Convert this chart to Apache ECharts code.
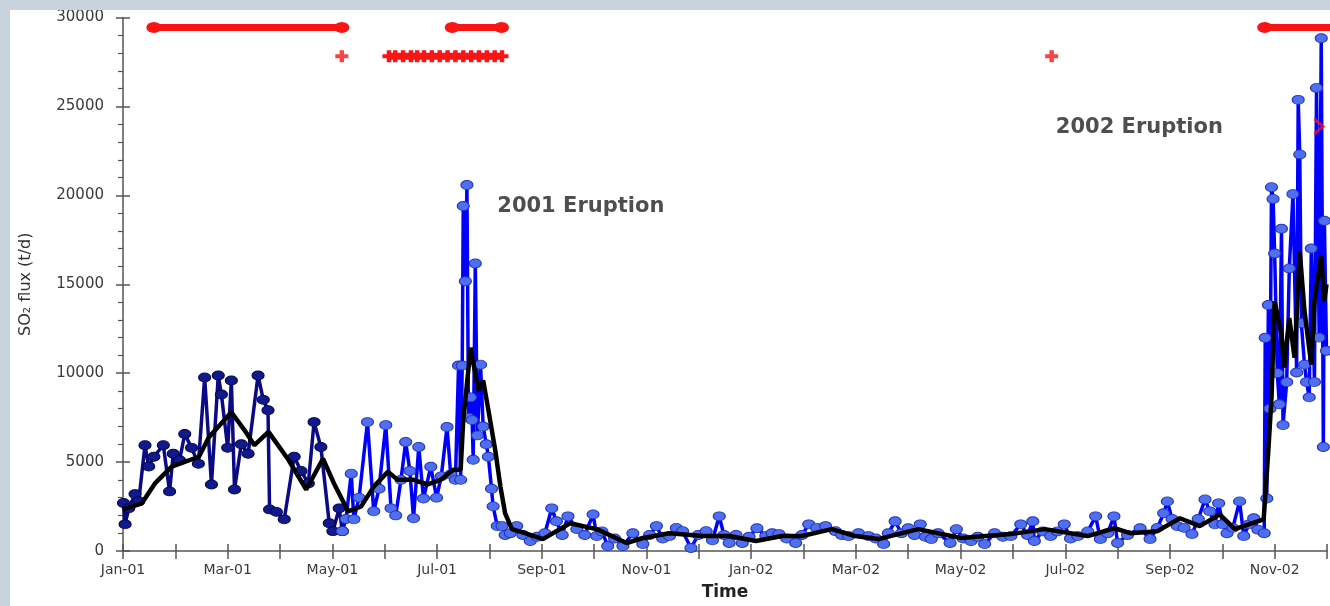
<!DOCTYPE html>
<html>
<head>
<meta charset="utf-8">
<script src="https://cdn.jsdelivr.net/npm/echarts@6/dist/echarts.min.js"></script>
<style>
html,body{margin:0;padding:0;width:1330px;height:606px;overflow:hidden;background:#c9d3dd;}
#chart{position:absolute;left:10px;top:10px;width:1320px;height:596px;background:#ffffff;}
</style>
</head>
<body>
<div id="chart"></div>
<script>
// time values are in months since 1 Jan 2001 (0 = Jan-01, 22 = Nov-02)
const monthNames = ['Jan','Feb','Mar','Apr','May','Jun','Jul','Aug','Sep','Oct','Nov','Dec'];
const yTicks = [0, 5000, 10000, 15000, 20000, 25000, 30000];

// pre-May 2001 measurements (dark blue)
const earlyT = [0.01,0.04,0.11,0.23,0.30,0.42,0.49,0.59,0.77,0.89,0.96,1.08,1.18,1.31,1.44,1.56,1.69,1.82,1.88,2.00,2.07,2.13,2.26,2.39,2.58,2.68,2.77,2.80,2.93,3.08,3.27,3.40,3.54,3.65,3.78,3.94,4.01,4.13,4.19];
const earlyV = [2700,1500,2400,3200,2800,5950,4750,5300,5950,3350,5470,5100,6580,5800,4900,9760,3740,9870,8800,5800,9590,3460,6000,5470,9870,8500,7920,2340,2200,1780,5300,4500,3800,7250,5850,1560,1115,2400,1115];

// later measurements (blue)
const lateT = [4.19,4.26,4.36,4.41,4.51,4.67,4.79,4.89,5.02,5.12,5.21,5.31,5.40,5.48,5.55,5.65,5.74,5.88,5.99,6.08,6.19,6.26,6.35,6.41,6.45,6.48,6.50,6.54,6.57,6.60,6.64,6.67,6.69,6.73,6.77,6.83,6.88,6.94,6.98,7.04,7.07,7.15,7.24,7.30,7.40,7.52,7.64,7.78,7.91,8.06,8.19,8.28,8.39,8.50,8.67,8.82,8.98,9.05,9.15,9.26,9.39,9.55,9.74,9.93,10.06,10.19,10.31,10.44,10.57,10.69,10.85,10.99,11.14,11.26,11.39,11.48,11.58,11.71,11.83,11.96,12.11,12.28,12.40,12.53,12.68,12.85,12.97,13.10,13.25,13.42,13.61,13.73,13.86,14.05,14.24,14.38,14.53,14.62,14.75,14.87,15.00,15.12,15.23,15.33,15.44,15.57,15.80,15.92,16.05,16.20,16.33,16.46,16.65,16.81,16.96,17.15,17.28,17.38,17.41,17.57,17.72,17.85,17.98,18.10,18.24,18.43,18.58,18.67,18.81,18.93,19.00,19.19,19.43,19.62,19.76,19.88,19.95,20.04,20.14,20.27,20.42,20.54,20.67,20.76,20.86,20.93,21.01,21.09,21.20,21.33,21.41,21.51,21.60,21.68,21.80,21.82,21.85,21.88,21.91,21.94,21.97,22.00,22.05,22.09,22.13,22.16,22.23,22.28,22.35,22.42,22.45,22.48,22.51,22.57,22.61,22.66,22.70,22.76,22.80,22.85,22.89,22.93,22.95,22.99];
const lateV = [1115,1800,4350,1780,3000,7250,2230,3500,7080,2400,2000,4000,6130,4500,1840,5850,2950,4740,3000,4200,6970,4300,4000,10430,4000,10430,19400,15170,20580,7500,8640,7360,5130,16170,6500,10480,7000,6000,5300,3500,2510,1400,1400,900,1000,1400,900,560,800,1000,2400,1670,900,1950,1230,900,2060,840,1100,280,700,280,1000,390,900,1400,700,840,1300,1115,170,900,1115,600,1950,900,450,900,450,800,1280,840,1000,950,700,450,900,1500,1300,1400,1115,900,840,1000,840,700,390,1000,1670,1000,1280,900,1500,800,670,1000,450,1230,700,560,800,390,1000,800,840,1500,900,1670,560,1100,840,1100,1500,700,840,1100,1950,670,1000,1950,450,900,1280,670,1300,2120,2790,1800,1400,1300,950,1800,2900,2230,1500,2680,1500,1000,1300,2790,840,1500,1840,1200,1000,11990,2950,13830,8000,20460,19800,16730,10000,8250,18120,7080,9500,15890,20070,10040,25370,22300,12820,10480,9500,8640,17010,9500,26040,12000,28830,5850,18570,11260];

// running mean (black)
const meanT = [0.00,0.36,0.61,0.93,1.45,1.64,2.07,2.32,2.51,2.78,3.16,3.50,3.82,4.03,4.30,4.55,4.79,5.06,5.25,5.55,5.82,6.07,6.31,6.45,6.50,6.64,6.79,6.88,6.98,7.11,7.21,7.30,7.43,7.68,8.02,8.54,9.05,9.62,9.93,10.44,11.07,11.58,12.09,12.59,12.97,13.54,13.99,14.43,15.19,16.01,16.96,17.61,18.43,18.94,19.24,19.76,20.19,20.57,20.95,21.24,21.79,21.82,21.88,21.94,22.00,22.13,22.18,22.28,22.38,22.48,22.57,22.70,22.76,22.89,22.95,22.99];
const meanV = [2340,2680,3800,4740,5300,6400,7800,6800,5950,6700,5130,3460,5190,3800,2230,2510,3620,4460,4000,4000,3740,4000,4570,4570,7360,11430,9000,9590,7920,5690,3620,2120,1230,1000,670,1560,1230,450,730,1000,840,840,560,840,840,1230,840,670,1230,730,950,1230,840,1280,1000,1115,1840,1400,2060,1230,1780,3070,5690,8640,14050,12160,10320,13100,10870,16840,13490,10480,14050,16620,14050,15000];

// activity bars at the top
const barLevel = 29440;
const barSegments = [[0.59, 4.18], [6.29, 7.23], [21.81, 23.3]];
const crossLevel = 27820;
const crossSingles = [4.18, 17.74];
const crossBandT = [5.08,5.20,5.35,5.50,5.62,5.75,5.90,6.05,6.20,6.35,6.50,6.65,6.80,6.95,7.10,7.24];

const notes = [[7.15, 19350, '2001 Eruption'], [17.82, 23810, '2002 Eruption']];
const chevron = [[22.84, 23870]];

const zip = (t, v) => t.map((x, i) => [x, v[i]]);
const font = 'DejaVu Sans';
const plusPath = 'path://M3.3,0 L6.7,0 L6.7,3.3 L10,3.3 L10,6.7 L6.7,6.7 L6.7,10 L3.3,10 L3.3,6.7 L0,6.7 L0,3.3 L3.3,3.3 Z';

const series = [];
barSegments.forEach(seg => {
  series.push({
    type: 'line',
    data: [[seg[0], barLevel], [seg[1], barLevel]],
    lineStyle: {color: '#fa1414', width: 7},
    symbol: 'circle', symbolSize: [15, 11],
    itemStyle: {color: '#fa1414'}, z: 4, silent: true
  });
});
series.push({
  type: 'line', data: crossBandT.map(t => [t, crossLevel]),
  lineStyle: {color: '#fa1414', width: 7},
  symbol: plusPath, symbolSize: [13, 12],
  itemStyle: {color: '#fa1414'}, z: 4
});
series.push({
  type: 'scatter', data: crossSingles.map(t => [t, crossLevel]),
  symbol: plusPath, symbolSize: [13, 12],
  itemStyle: {color: '#fa1414'}, z: 4
});
series.push({
  type: 'line', data: zip(earlyT, earlyV),
  lineStyle: {color: '#0a0a86', width: 3.5},
  symbol: 'circle', symbolSize: [12, 9], showAllSymbol: true,
  itemStyle: {color: '#101a8c', borderColor: '#050550', borderWidth: 1}, z: 2
});
series.push({
  type: 'line', data: zip(lateT, lateV),
  lineStyle: {color: '#0000ff', width: 3.5},
  symbol: 'circle', symbolSize: [12, 9], showAllSymbol: true,
  itemStyle: {color: '#4f6ff2', borderColor: '#2535b5', borderWidth: 1}, z: 2
});
series.push({
  type: 'line', data: zip(meanT, meanV),
  lineStyle: {color: '#000000', width: 4.5},
  symbol: 'none', z: 3
});
series.push({
  type: 'scatter', data: chevron,
  symbol: 'path://M0,0 L10,8 L0,16', symbolSize: [9, 15],
  itemStyle: {color: 'transparent', borderColor: '#fa1414', borderWidth: 2.5}, z: 4
});
series.push({
  type: 'scatter', data: notes, symbolSize: 0, z: 5,
  label: {show: true, position: 'right', distance: 0, formatter: p => p.value[2],
    color: '#222222', fontFamily: font, fontWeight: 'bold', fontSize: 21}
});

const chart = echarts.init(document.getElementById('chart'));
chart.setOption({
  animation: false,
  grid: {left: 110, right: 0, top: 7, bottom: 51, containLabel: false},
  xAxis: [{
    type: 'value', min: 0, max: 23, interval: 1, position: 'bottom',
    axisLine: {lineStyle: {color: '#555', width: 1.5}},
    axisTick: {show: true, length: 8, lineStyle: {color: '#555', width: 1.5}},
    splitLine: {show: false},
    axisLabel: {color: '#3a3a3a', fontFamily: font, fontSize: 14, margin: 12,
      formatter: v => (v % 2 === 0 ? monthNames[v % 12] + '-' + String(1 + Math.floor(v / 12)).padStart(2, '0') : '')},
    name: 'Time', nameLocation: 'middle', nameGap: 33,
    nameTextStyle: {color: '#222', fontFamily: font, fontWeight: 'bold', fontSize: 17}
  }, {
    type: 'value', min: 0, max: 23, interval: 1, position: 'bottom',
    axisLine: {show: false}, axisLabel: {show: false}, splitLine: {show: false},
    axisTick: {show: true, inside: true, length: 7, lineStyle: {color: '#555', width: 1.5}}
  }],
  yAxis: [{
    type: 'value', min: yTicks[0], max: yTicks[yTicks.length - 1], interval: yTicks[1] - yTicks[0],
    axisLine: {show: true, lineStyle: {color: '#555', width: 1.5}},
    axisTick: {show: true, length: 7, lineStyle: {color: '#555', width: 1.5}},
    minorTick: {show: true, splitNumber: 5, length: 5, lineStyle: {color: '#555', width: 1.2}},
    splitLine: {show: false},
    axisLabel: {color: '#3a3a3a', fontFamily: font, fontSize: 15, margin: 19, formatter: v => String(v)},
    name: 'SO₂ flux (t/d)', nameLocation: 'middle', nameGap: 89, nameRotate: 90,
    nameTextStyle: {color: '#333', fontFamily: font, fontSize: 16}
  }, {
    type: 'value', min: yTicks[0], max: yTicks[yTicks.length - 1], interval: yTicks[1] - yTicks[0], position: 'left',
    axisLine: {show: false}, axisLabel: {show: false}, splitLine: {show: false},
    axisTick: {show: true, inside: true, length: 7, lineStyle: {color: '#555', width: 1.5}}
  }],
  series: series
});
</script>
</body>
</html>
